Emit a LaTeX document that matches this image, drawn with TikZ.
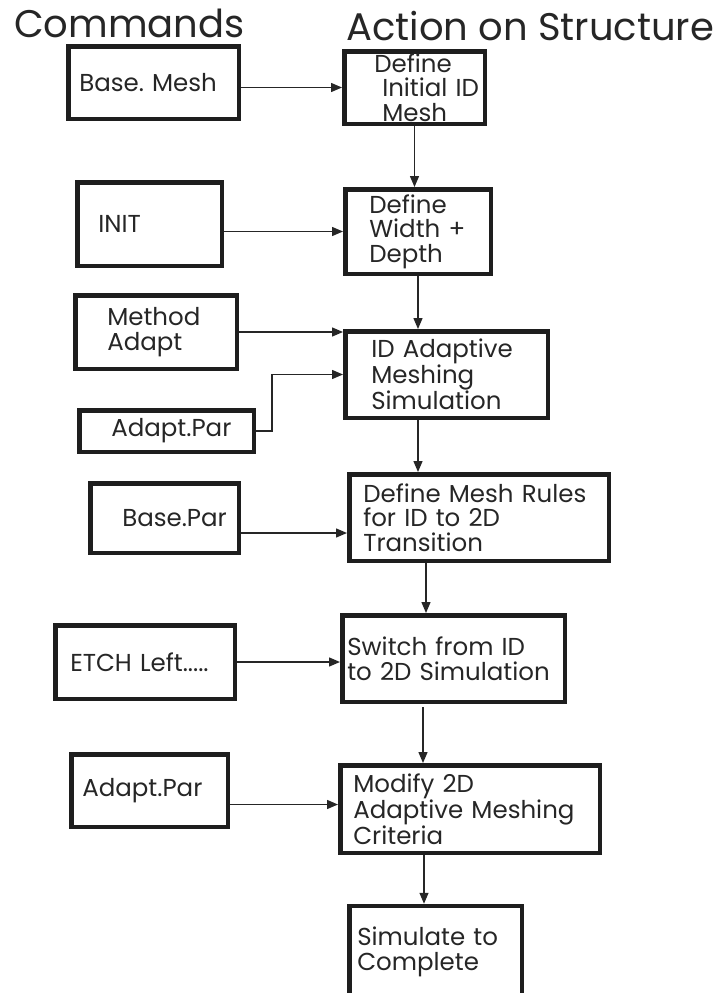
\documentclass[tikz,border=0pt]{standalone}
\usepackage{fontspec}
\setmainfont{Poppins}
\usetikzlibrary{arrows.meta}

\definecolor{boxgray}{HTML}{1E1E1E}
\definecolor{inkgray}{HTML}{262626}
\newcommand\boxfont{\fontsize{24.5}{24.5}\selectfont}
\newcommand\headfont{\fontsize{38.5}{38}\selectfont}
\hyphenpenalty=10000

\tikzset{
  stage/.style={draw=boxgray, line width=4.5pt, text=inkgray, font=\boxfont,
    align=left, inner ysep=0pt},
  link/.style={draw=inkgray, line width=1.4pt, -{Triangle[length=11pt,width=9pt]}},
  head/.style={font=\headfont, text=inkgray, anchor=base west, inner sep=0pt},
}

\begin{document}
\begin{tikzpicture}[x=1pt,y=-1pt]
  \useasboundingbox (0,0) rectangle (720,993);
  \clip (0,0) rectangle (720,993);

  % column headings
  \node[head] (hcmd) at (14,37) {Commands};
  \node[head] (hact) at (346,40) {Action on Structure};

  % commands
  \node[stage, minimum width=170.5pt, minimum height=72.5pt, inner xsep=11pt, text width=148.5pt]
    (bmesh) at (153.5,82.5) {Base.~Mesh};
  \node[stage, minimum width=144.5pt, minimum height=83.5pt, inner xsep=21pt, text width=102.5pt]
    (init) at (149.5,224) {INIT};
  \node[stage, minimum width=161.5pt, minimum height=73.5pt, inner xsep=32pt, text width=97.5pt]
    (method) at (156,332) {Method\\Adapt};
  \node[stage, minimum width=174.5pt, minimum height=41.5pt, inner xsep=32pt, text width=110.5pt]
    (apar) at (166.5,431) {Adapt.Par};
  \node[stage, minimum width=148.5pt, minimum height=69.5pt, inner xsep=32pt, text width=84.5pt]
    (bpar) at (164.5,518) {Base.Par};
  \node[stage, minimum width=179.5pt, minimum height=73.5pt, inner xsep=15pt, text width=149.5pt]
    (etch) at (145,662) {ETCH~Left.....};
  \node[stage, minimum width=156.5pt, minimum height=72.5pt, inner xsep=11pt, text width=134.5pt]
    (apar2) at (149.5,790.5) {Adapt.Par};

  % action on structure
  \node[stage, minimum width=140.5pt, minimum height=72.5pt, inner xsep=30pt, text width=80.5pt]
    (dinit) at (414.5,87.5) {Define\\\hspace*{8pt}Initial~ID\\\hspace*{8pt}Mesh};
  \node[stage, minimum width=145.5pt, minimum height=84.5pt, inner xsep=24pt, text width=97.5pt]
    (dwidth) at (418,231.5) {Define\\Width~+\\Depth};
  \node[stage, minimum width=202.5pt, minimum height=86.5pt, inner xsep=26pt, text width=150.5pt]
    (adapt) at (446.5,374.5) {ID~Adaptive\\Meshing\\Simulation};
  \node[stage, minimum width=259.5pt, minimum height=86.5pt, inner xsep=14pt, text width=231.5pt]
    (rules) at (479,517.5) {Define~Mesh~Rules\\for~ID~to~2D\\Transition};
  \node[stage, minimum width=222.5pt, minimum height=86.5pt, inner xsep=5pt, text width=212.5pt]
    (switch) at (453.5,658.5) {Switch~from~ID\\to~2D~Simulation};
  \node[stage, minimum width=259.5pt, minimum height=87.5pt, inner xsep=13pt, text width=233.5pt]
    (modify) at (470,809) {Modify~2D\\Adaptive~Meshing\\Criteria};
  \node[stage, minimum width=172.5pt, minimum height=92pt, inner xsep=8pt, text width=156.5pt]
    (sim) at (435.5,952) {Simulate~to\\Complete};

  % commands into the structure steps
  \draw[link] (bmesh.east |- dinit.west) -- (dinit.west);
  \draw[link] (init.east |- dwidth.west) -- (dwidth.west);
  \draw[link] (method.east) -- (method.east -| adapt.west);
  \draw[link] (apar.east) -- ++(16,0) |- (adapt.west);
  \draw[link] ([yshift=-15pt]bpar.east) -- ([yshift=-15pt]bpar.east -| rules.west);
  \draw[link] (etch.east) -- (etch.east -| switch.west);
  \draw[link] ([yshift=-14pt]apar2.east) -- ([yshift=-14pt]apar2.east -| modify.west);

  % step to step
  \draw[link] (dinit.south) -- (dinit.south |- dwidth.north);
  \draw[link] (dwidth.south) -- (dwidth.south |- adapt.north);
  \draw[link] (dwidth.south |- adapt.south) -- (dwidth.south |- rules.north);
  \draw[link] ([xshift=79pt]rules.south west) -- ([xshift=79pt]rules.south west |- switch.north);
  \draw[link] ([xshift=83pt,yshift=-3pt]switch.south west) -- ([xshift=83pt]switch.south west |- modify.north);
  \draw[link] ([xshift=86pt]modify.south west) -- ([xshift=86pt]modify.south west |- sim.north);
\end{tikzpicture}
\end{document}
